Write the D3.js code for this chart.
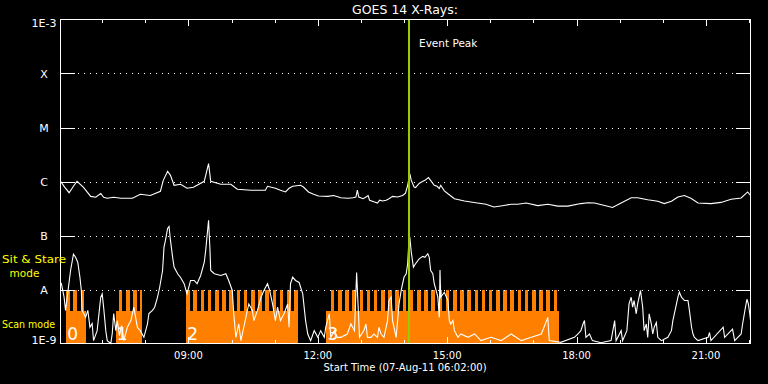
<!DOCTYPE html>
<html>
<head>
<meta charset="utf-8">
<script src="https://cdn.jsdelivr.net/npm/d3@7"></script>
<style>
body { margin: 0; background: #000; }
svg { display: block; }
text { font-family: "DejaVu Sans", sans-serif; }
</style>
</head>
<body>
<script>
var width = 768, height = 384;

// minutes after 06:00 UT on 07-Aug-11, flux in W/m^2
var longChannel = [
    [2,1.01e-6],[8,7.8e-7],[14,6.2e-7],[20,8.15e-7],[25,1.01e-6],[34,7.8e-7],[44,5.3e-7],[51,5.1e-7],[58,6.0e-7],[62,5.1e-7],
    [67,4.9e-7],[76,5.1e-7],[86,4.9e-7],[102,4.9e-7],[113,5.8e-7],[127,5.5e-7],[141,6.6e-7],[145,1.05e-6],[151,1.55e-6],[155,1.3e-6],
    [160,8.5e-7],[169,8.9e-7],[178,7.5e-7],[187,7.8e-7],[202,1.01e-6],[208,2.15e-6],[211,1.01e-6],[225,8.9e-7],[239,8.9e-7],[248,7.2e-7],
    [267,6.9e-7],[287,6.9e-7],[290,8.15e-7],[301,7.5e-7],[308,6.9e-7],[315,6.4e-7],[320,7.5e-7],[325,8.15e-7],[336,8.5e-7],[340,7.9e-7],
    [347,6.4e-7],[354,5.8e-7],[361,5.4e-7],[374,5.3e-7],[382,5.5e-7],[392,5.0e-7],[402,4.9e-7],[409,5.0e-7],[413,5.15e-7],[415,6.9e-7],
    [417,5.15e-7],[423,4.8e-7],[427,5.15e-7],[430,5.5e-7],[432,4.5e-7],[438,4.2e-7],[443,4.0e-7],[446,4.5e-7],[450,4.35e-7],[455,4.5e-7],
    [459,4.8e-7],[464,5.3e-7],[471,5.15e-7],[478,5.5e-7],[482,6.1e-7],[485,8.5e-7],[488,1.4e-6],[490,1.05e-6],[494,7.9e-7],[496,7.7e-7],
    [501,9.2e-7],[503,9.55e-7],[509,1.05e-6],[514,1.18e-6],[522,8.5e-7],[526,8.15e-7],[529,7.4e-7],[531,8.5e-7],[536,6.7e-7],[542,5.8e-7],
    [550,4.8e-7],[564,4.35e-7],[582,4.0e-7],[594,3.8e-7],[605,3.37e-7],[619,3.6e-7],[629,3.8e-7],[638,3.8e-7],[650,4.0e-7],[666,3.58e-7],
    [680,3.8e-7],[694,3.5e-7],[708,3.5e-7],[726,3.9e-7],[736,4.05e-7],[745,4.0e-7],[759,3.6e-7],[770,3.3e-7],[782,4.0e-7],[796,5.0e-7],
    [805,5.0e-7],[819,4.6e-7],[833,4.3e-7],[842,3.9e-7],[852,4.3e-7],[861,5.15e-7],[870,5.5e-7],[879,4.9e-7],[889,4.0e-7],[907,3.9e-7],
    [921,4.1e-7],[935,4.7e-7],[949,4.95e-7],[958,6.4e-7],[962,5.5e-7]
];

var shortChannel = [
    [3,1.33e-8],[7,7.2e-9],[9,4.1e-9],[16,2.25e-8],[20,4.5e-8],[23,3.95e-8],[26,3.2e-8],[29,1.7e-8],[31,9.6e-9],[32,4.1e-9],
    [37,3.05e-9],[40,4.1e-9],[43,2.0e-9],[46,2.34e-9],[48,1.13e-9],[53,1.73e-9],[58,7.2e-9],[60,8.3e-9],[62,4.7e-9],[65,1.73e-9],
    [67,1.13e-9],[72,1.0e-9],[74,1.53e-9],[76,3.6e-9],[79,1.73e-9],[81,2.66e-9],[84,1.4e-9],[87,2.15e-9],[90,1.13e-9],[95,2.0e-9],
    [100,2.66e-9],[104,4.7e-9],[109,2.0e-9],[113,1.73e-9],[118,1.3e-9],[123,2.3e-9],[125,3.6e-9],[130,4.1e-9],[133,4.7e-9],[137,7.2e-9],
    [140,1.1e-8],[144,2.25e-8],[146,6.1e-8],[148,8.1e-8],[151,1.35e-7],[153,1.47e-7],[155,8.1e-8],[158,3.95e-8],[160,2.6e-8],[165,1.96e-8],
    [169,1.67e-8],[174,1.28e-8],[178,8.3e-9],[183,1.47e-8],[188,1.47e-8],[192,1.28e-8],[197,1.82e-8],[202,3.17e-8],[204,5.3e-8],[208,1.91e-7],
    [210,5.3e-8],[211,2.25e-8],[216,1.96e-8],[225,1.82e-8],[232,1.96e-8],[236,1.47e-8],[241,9.6e-9],[243,3.6e-9],[246,1.3e-9],[250,2.3e-9],
    [253,1.13e-9],[257,2.0e-9],[262,4.1e-9],[264,5.4e-9],[269,4.1e-9],[271,2.66e-9],[276,4.1e-9],[281,7.2e-9],[285,9.6e-9],[290,1.28e-8],
    [293,9.6e-9],[297,5.4e-9],[301,2.66e-9],[304,4.7e-9],[308,2.66e-9],[313,3.55e-9],[318,5.4e-9],[320,2.0e-9],[322,1.28e-8],[325,1.7e-8],
    [329,1.47e-8],[334,1.35e-8],[339,8.3e-9],[343,2.66e-9],[346,1.5e-9],[350,1.13e-9],[355,1.73e-9],[360,1.3e-9],[364,1.73e-9],[369,1.3e-9],
    [371,2.0e-9],[376,3.55e-9],[378,1.3e-9],[383,1.73e-9],[387,1.3e-9],[392,1.3e-9],[401,1.5e-9],[406,2.3e-9],[411,1.73e-9],[414,2.07e-8],
    [418,1.3e-9],[424,1.73e-9],[427,2.3e-9],[429,1.3e-9],[434,1.3e-9],[438,1.5e-9],[443,1.3e-9],[445,2.0e-9],[448,1.5e-9],[452,1.3e-9],
    [457,2.66e-9],[459,6.25e-9],[462,7.2e-9],[464,2.66e-9],[469,1.3e-9],[473,5.4e-9],[476,9.6e-9],[478,1.28e-8],[480,1.7e-8],[483,1.96e-8],
    [485,3.0e-8],[487,9.3e-8],[488,9.3e-8],[490,4.95e-8],[493,2.6e-8],[496,3.0e-8],[501,3.7e-8],[506,4.1e-8],[509,3.95e-8],[513,4.6e-8],
    [515,3.95e-8],[517,2.25e-8],[520,1.96e-8],[522,1.28e-8],[524,1.03e-8],[527,7.2e-9],[529,3.05e-9],[530,2.3e-8],[531,7.2e-9],[536,8.9e-9],
    [541,6.25e-9],[543,2.66e-9],[545,2.3e-9],[548,2.66e-9],[550,1.73e-9],[555,1.3e-9],[559,1.5e-9],[569,1.3e-9],[578,1.5e-9],[587,1.13e-9],
    [601,1.3e-9],[615,1.13e-9],[629,1.5e-9],[643,1.13e-9],[657,1.3e-9],[671,1.5e-9],[680,3.05e-9],[682,1.13e-9],[698,1.05e-9],[717,1.3e-9],
    [722,1.5e-9],[726,1.73e-9],[729,2.3e-9],[731,2.66e-9],[733,1.3e-9],[738,1.5e-9],[742,1.13e-9],[754,1.03e-9],[768,1.13e-9],[773,2.66e-9],
    [775,1.13e-9],[782,1.73e-9],[784,1.13e-9],[790,1.73e-9],[793,5.4e-9],[796,7.2e-9],[798,4.7e-9],[800,6.25e-9],[803,3.55e-9],[805,5.4e-9],
    [809,9.6e-9],[812,4.7e-9],[814,1.73e-9],[817,2.3e-9],[819,1.3e-9],[821,3.55e-9],[824,2.3e-9],[826,1.5e-9],[828,2.0e-9],[831,2.45e-9],
    [833,1.3e-9],[838,1.13e-9],[847,1.3e-9],[852,1.73e-9],[854,2.66e-9],[856,3.55e-9],[859,5.4e-9],[861,7.2e-9],[863,8.9e-9],[866,7.2e-9],
    [870,6.25e-9],[875,6.25e-9],[877,4.1e-9],[880,2.0e-9],[882,1.5e-9],[884,1.3e-9],[889,1.13e-9],[903,1.3e-9],[905,1.6e-9],[907,1.13e-9],
    [924,2.0e-9],[926,1.3e-9],[937,1.85e-9],[940,1.13e-9],[949,1.5e-9],[951,2.3e-9],[955,4.7e-9],[957,6.6e-9],[959,5.4e-9],[961,3.55e-9],
    [962,2.66e-9]
];

// observing blocks: scan mode from start to end, 5 min sit & stare every 10 min from "stare"
var scanBlocks = [
    {label: "0", start: "06:10", stare: "06:10", end: "06:38"},
    {label: "1", start: "07:19", stare: "07:23", end: "07:56"},
    {label: "2", start: "08:57", stare: "08:57", end: "11:32"},
    {label: "3", start: "12:12", stare: "12:18", end: "17:35"}
];
var stareCycle = 10, stareLength = 5;

var levelNames = ["1E-9", "A", "B", "C", "M", "X", "1E-3"];
var levelValues = [1e-9, 1e-8, 1e-7, 1e-6, 1e-5, 1e-4, 1e-3];

var startTime = "06:02", endTime = "22:02", eventPeak = "14:07";
var day = "2011-08-07 ";

var parse = d3.utcParse("%Y-%m-%d %H:%M");
var base = parse(day + "06:00");
function fromMin(m) { return new Date(base.getTime() + m * 60000); }
function fromClock(s) { return parse(day + s); }

var x = d3.scaleUtc().domain([fromClock(startTime), fromClock(endTime)]).range([60.5, 750.5]);
var y = d3.scaleLog().domain([1e-9, 1e-3]).range([343.5, 19.5]).clamp(true);

var svg = d3.select("body").append("svg")
    .attr("width", width).attr("height", height)
    .style("background", "#000");

// mode bars
var orange = "#ff8000";
var stareTop = y(1e-8), scanTop = y(1e-8) + 0.39 * (y(1e-9) - y(1e-8)), bottom = y(1e-9);
var modes = svg.append("g").attr("shape-rendering", "crispEdges");
scanBlocks.forEach(function(b) {
    var s = fromClock(b.start), e = fromClock(b.end), st = fromClock(b.stare);
    modes.append("rect").attr("x", x(s)).attr("y", scanTop)
        .attr("width", x(e) - x(s)).attr("height", bottom - scanTop).attr("fill", orange);
    var bars = d3.range(st.getTime(), e.getTime(), stareCycle * 60000);
    modes.selectAll(null).data(bars).enter().append("rect")
        .attr("x", function(d) { return x(new Date(d)); })
        .attr("y", stareTop)
        .attr("width", function(d) { return x(new Date(Math.min(d + stareLength * 60000, e.getTime()))) - x(new Date(d)); })
        .attr("height", bottom - stareTop)
        .attr("fill", orange);
});

// grid lines at flare classes
var grid = svg.append("g").attr("stroke", "#fff").attr("shape-rendering", "crispEdges");
var inner = levelValues.slice(1, -1);
grid.selectAll(".dots").data(inner).enter().append("line")
    .attr("x1", 78).attr("x2", 736)
    .attr("y1", function(d) { return Math.round(y(d)) + 0.5; })
    .attr("y2", function(d) { return Math.round(y(d)) + 0.5; })
    .attr("stroke-dasharray", "1,5");
grid.selectAll(".lt").data(inner).enter().append("line")
    .attr("x1", 60.5).attr("x2", 75)
    .attr("y1", function(d) { return Math.round(y(d)) + 0.5; })
    .attr("y2", function(d) { return Math.round(y(d)) + 0.5; });
grid.selectAll(".rt").data(inner).enter().append("line")
    .attr("x1", 736).attr("x2", 750.5)
    .attr("y1", function(d) { return Math.round(y(d)) + 0.5; })
    .attr("y2", function(d) { return Math.round(y(d)) + 0.5; });

// light curves
var line = d3.line()
    .x(function(d) { return x(fromMin(d[0])); })
    .y(function(d) { return y(d[1]); });
svg.append("path").datum(longChannel).attr("d", line)
    .attr("fill", "none").attr("stroke", "#fff").attr("stroke-width", 1.1);
svg.append("path").datum(shortChannel).attr("d", line)
    .attr("fill", "none").attr("stroke", "#fff").attr("stroke-width", 1.1);

// block numbers
svg.selectAll(".blk").data(scanBlocks).enter().append("text")
    .attr("x", function(d) { return x(fromClock(d.start)) + 1; })
    .attr("y", 340)
    .attr("fill", "#fff").attr("font-size", 17)
    .text(function(d) { return d.label; });

// event peak
var peakX = Math.round(x(fromClock(eventPeak)));
svg.append("line").attr("x1", peakX).attr("x2", peakX).attr("y1", 19.5).attr("y2", 343.5)
    .attr("stroke", "#99cc00").attr("stroke-width", 2).attr("shape-rendering", "crispEdges");
svg.append("text").attr("x", peakX + 10).attr("y", 46.5)
    .attr("fill", "#fff").attr("font-size", 10.5).text("Event Peak");

// frame and time ticks
svg.append("rect").attr("x", 60.5).attr("y", 19.5).attr("width", 690).attr("height", 324)
    .attr("fill", "none").attr("stroke", "#fff").attr("shape-rendering", "crispEdges");

var hours = x.ticks(d3.utcHour.every(1));
var ticks = svg.append("g").attr("stroke", "#fff").attr("shape-rendering", "crispEdges");
ticks.selectAll(".top").data(hours).enter().append("line")
    .attr("x1", function(d) { return Math.round(x(d)) + 0.5; })
    .attr("x2", function(d) { return Math.round(x(d)) + 0.5; })
    .attr("y1", 19.5)
    .attr("y2", function(d) { return d.getUTCHours() % 3 == 0 ? 26 : 23; });
ticks.selectAll(".bot").data(hours).enter().append("line")
    .attr("x1", function(d) { return Math.round(x(d)) + 0.5; })
    .attr("x2", function(d) { return Math.round(x(d)) + 0.5; })
    .attr("y1", 343.5)
    .attr("y2", function(d) { return d.getUTCHours() % 3 == 0 ? 337 : 340; });

var fmt = d3.utcFormat("%H:%M");
svg.selectAll(".xl").data(x.ticks(d3.utcHour.every(3))).enter().append("text")
    .attr("x", function(d) { return x(d); })
    .attr("y", 358.5)
    .attr("text-anchor", "middle").attr("fill", "#fff").attr("font-size", 10)
    .text(function(d) { return fmt(d); });

svg.append("text").attr("x", 405).attr("y", 370.5)
    .attr("text-anchor", "middle").attr("fill", "#fff").attr("font-size", 10)
    .text("Start Time (07-Aug-11 06:02:00)");

svg.append("text").attr("x", 405).attr("y", 13.5)
    .attr("text-anchor", "middle").attr("fill", "#fff").attr("font-size", 12.5)
    .text("GOES 14 X-Rays:");

// flux class labels
svg.selectAll(".yl").data(levelNames).enter().append("text")
    .attr("x", 44)
    .attr("y", function(d, i) {
        if (i == 0) return y(levelValues[i]);
        if (i == levelNames.length - 1) return y(levelValues[i]) + 7.5;
        return y(levelValues[i]) + 4.5;
    })
    .attr("text-anchor", "middle").attr("fill", "#fff").attr("font-size", 11)
    .text(function(d) { return d; });

// mode labels
var yellow = "#ffff00";
svg.append("text").attr("x", 2).attr("y", 262.5).attr("fill", yellow).attr("font-size", 10.5)
    .attr("textLength", 64).attr("lengthAdjust", "spacingAndGlyphs").text("Sit & Stare");
svg.append("text").attr("x", 24.5).attr("y", 276.5).attr("text-anchor", "middle")
    .attr("fill", yellow).attr("font-size", 10.5).text("mode");
svg.append("text").attr("x", 2).attr("y", 327.5).attr("fill", yellow).attr("font-size", 10.5)
    .attr("textLength", 53).attr("lengthAdjust", "spacingAndGlyphs").text("Scan mode");
</script>
</body>
</html>
